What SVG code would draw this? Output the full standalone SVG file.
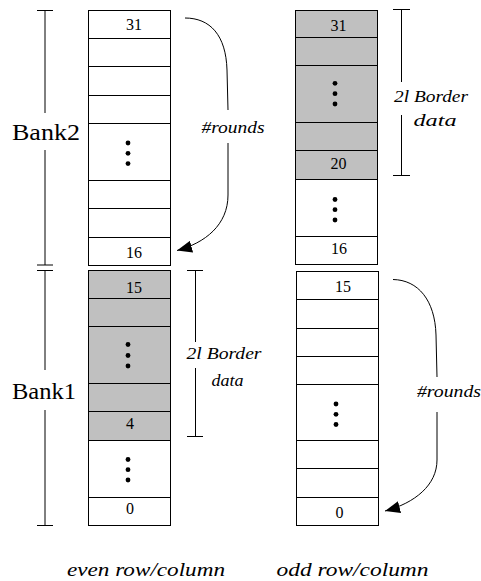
<svg xmlns="http://www.w3.org/2000/svg" width="481" height="581" viewBox="0 0 481 581">
<style>
.bg{fill:#fff}
.cell{fill:#fff;stroke:#000;stroke-width:1}
.sh{fill:#c0c0c0;stroke:#000;stroke-width:1}
.ln{fill:none;stroke:#000;stroke-width:1}
.dot{fill:#000}
.num{font-family:"Liberation Serif","Times New Roman",serif;font-size:16px;text-anchor:middle;fill:#000}
.bank{font-family:"Liberation Serif","Times New Roman",serif;font-size:24px;text-anchor:middle;fill:#000}
.it{font-family:"Liberation Serif","Times New Roman",serif;font-style:italic;font-size:16px;text-anchor:middle;fill:#000}
.cap{font-family:"Liberation Serif","Times New Roman",serif;font-style:italic;font-size:18px;text-anchor:middle;fill:#000}
</style>
<defs>
<marker id="ah" markerWidth="16" markerHeight="12" refX="15" refY="6" orient="auto" markerUnits="userSpaceOnUse">
<path d="M0,0 L15,6 L0,12 z" fill="#000"/>
</marker>
</defs>
<rect class="bg" x="0" y="0" width="481" height="581"/>

<g id="bank2-even">
<rect class="cell" x="88.5" y="10.5" width="82" height="28"/>
<rect class="cell" x="88.5" y="38.5" width="82" height="28"/>
<rect class="cell" x="88.5" y="66.5" width="82" height="29"/>
<rect class="cell" x="88.5" y="95.5" width="82" height="28"/>
<rect class="cell" x="88.5" y="123.5" width="82" height="57"/>
<rect class="cell" x="88.5" y="180.5" width="82" height="28"/>
<rect class="cell" x="88.5" y="208.5" width="82" height="29"/>
<rect class="cell" x="88.5" y="237.5" width="82" height="28"/>
<text class="num" x="134" y="30">31</text>
<circle class="dot" cx="128" cy="143" r="2.4"/>
<circle class="dot" cx="128" cy="153.3" r="2.4"/>
<circle class="dot" cx="128" cy="163.6" r="2.4"/>
<text class="num" x="134" y="258">16</text>
</g>

<g id="bank1-even">
<rect class="sh" x="88.5" y="270.5" width="82" height="28"/>
<rect class="sh" x="88.5" y="298.5" width="82" height="28"/>
<rect class="sh" x="88.5" y="326.5" width="82" height="57"/>
<rect class="sh" x="88.5" y="383.5" width="82" height="28"/>
<rect class="sh" x="88.5" y="411.5" width="82" height="29"/>
<rect class="cell" x="88.5" y="440.5" width="82" height="57"/>
<rect class="cell" x="88.5" y="497.5" width="82" height="28"/>
<text class="num" x="134" y="293">15</text>
<circle class="dot" cx="128" cy="344.5" r="2.4"/>
<circle class="dot" cx="128" cy="355.5" r="2.4"/>
<circle class="dot" cx="128" cy="366" r="2.4"/>
<text class="num" x="130" y="429">4</text>
<circle class="dot" cx="128" cy="459.5" r="2.4"/>
<circle class="dot" cx="128" cy="469.7" r="2.4"/>
<circle class="dot" cx="128" cy="480" r="2.4"/>
<text class="num" x="130" y="514">0</text>
</g>

<g id="bank2-odd">
<rect class="sh" x="295.5" y="10.5" width="82" height="27"/>
<rect class="sh" x="295.5" y="37.5" width="82" height="28"/>
<rect class="sh" x="295.5" y="65.5" width="82" height="57"/>
<rect class="sh" x="295.5" y="122.5" width="82" height="28"/>
<rect class="sh" x="295.5" y="150.5" width="82" height="29"/>
<rect class="cell" x="295.5" y="179.5" width="82" height="57"/>
<rect class="cell" x="295.5" y="236.5" width="82" height="28"/>
<text class="num" x="338.5" y="30.5">31</text>
<circle class="dot" cx="335" cy="83.3" r="2.4"/>
<circle class="dot" cx="335" cy="93.7" r="2.4"/>
<circle class="dot" cx="335" cy="104" r="2.4"/>
<text class="num" x="338.5" y="169">20</text>
<circle class="dot" cx="335" cy="199.5" r="2.4"/>
<circle class="dot" cx="335" cy="209.7" r="2.4"/>
<circle class="dot" cx="335" cy="220" r="2.4"/>
<text class="num" x="339" y="253.5">16</text>
</g>

<g id="bank1-odd">
<rect class="cell" x="296.5" y="271.5" width="82" height="28"/>
<rect class="cell" x="296.5" y="299.5" width="82" height="29"/>
<rect class="cell" x="296.5" y="328.5" width="82" height="28"/>
<rect class="cell" x="296.5" y="356.5" width="82" height="28"/>
<rect class="cell" x="296.5" y="384.5" width="82" height="56"/>
<rect class="cell" x="296.5" y="440.5" width="82" height="28"/>
<rect class="cell" x="296.5" y="468.5" width="82" height="29"/>
<rect class="cell" x="296.5" y="497.5" width="82" height="28"/>
<text class="num" x="343" y="291.5">15</text>
<circle class="dot" cx="336" cy="404" r="2.4"/>
<circle class="dot" cx="336" cy="414.3" r="2.4"/>
<circle class="dot" cx="336" cy="424.5" r="2.4"/>
<text class="num" x="339.5" y="518">0</text>
</g>

<g id="bank2-label">
<path class="ln" d="M37,10.5 H53 M45,10.5 V113 M45,150 V265 M37,265 H53"/>
<text class="bank" x="46" y="140" textLength="68" lengthAdjust="spacingAndGlyphs">Bank2</text>
</g>

<g id="bank1-label">
<path class="ln" d="M37,270.5 H53 M45,270.5 V370 M45,410 V525.5 M37,525.5 H53"/>
<text class="bank" x="44" y="399" textLength="64" lengthAdjust="spacingAndGlyphs">Bank1</text>
</g>

<g id="border-odd">
<path class="ln" d="M393,9.5 H410 M401.5,9.5 V82 M401.5,115 V175.5 M393,175.5 H410"/>
<text class="it" x="431" y="101.5" textLength="74" lengthAdjust="spacingAndGlyphs">2l Border</text>
<text class="it" x="435" y="125.5" textLength="43" lengthAdjust="spacingAndGlyphs">data</text>
</g>

<g id="border-even">
<path class="ln" d="M187,270.5 H203 M195.5,270.5 V342 M195.5,368 V436.5 M187,436.5 H203"/>
<text class="it" x="224" y="359" textLength="75" lengthAdjust="spacingAndGlyphs">2l Border</text>
<text class="it" x="227.5" y="386" textLength="32" lengthAdjust="spacingAndGlyphs">data</text>
</g>

<g id="connectors">
<path class="ln" d="M185,18 C210,18 226,35 227,70 L228,110"/>
<path class="ln" d="M228,143 L228,195 C228,225 205,243 177,250.5" marker-end="url(#ah)"/>
<text class="it" x="233" y="132.5" textLength="63" lengthAdjust="spacingAndGlyphs">#rounds</text>
<path class="ln" d="M393,279.5 C418,280 435,300 436,335 L437,377"/>
<path class="ln" d="M437,412 L437,460 C437,485 415,503 385,511" marker-end="url(#ah)"/>
<text class="it" x="449" y="396.5" textLength="64" lengthAdjust="spacingAndGlyphs">#rounds</text>
</g>

<g id="captions">
<text class="cap" x="146" y="576" textLength="158" lengthAdjust="spacingAndGlyphs">even row/column</text>
<text class="cap" x="352.5" y="576" textLength="152" lengthAdjust="spacingAndGlyphs">odd row/column</text>
</g>
</svg>
